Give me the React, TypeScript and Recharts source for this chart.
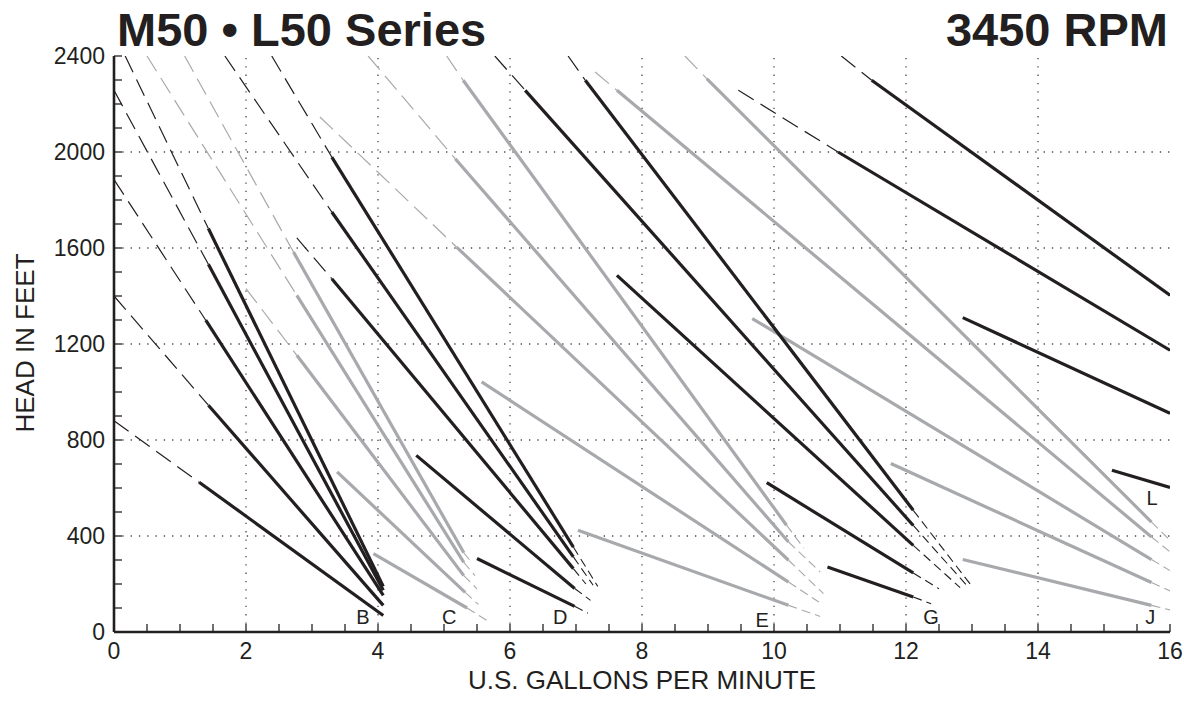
import React from 'react';
import { ComposedChart, Line, XAxis, YAxis, ReferenceLine, ReferenceDot } from 'recharts';

type Pt = [number, number];
interface Curve {
    dash?: Pt;
    from: Pt;
    to: Pt;
    tail?: Pt;
}

// [gpm, feet]
const curvesB: Curve[] = [
    { dash: [0, 880], from: [1.29, 624], to: [4.08, 69] },
    { dash: [0, 1400], from: [1.43, 945], to: [4.08, 111] },
    { dash: [0, 1885], from: [1.39, 1299], to: [4.08, 153] },
    { dash: [0, 2257], from: [1.43, 1532], to: [4.08, 174] },
    { dash: [0.17, 2400], from: [1.43, 1681], to: [4.08, 190] },
];

const curvesC: Curve[] = [
    { dash: [1.07, 2400], from: [2.72, 1583], to: [5.3, 330], tail: [5.42, 290] },
    { dash: [0.5, 2400], from: [2.77, 1403], to: [5.3, 290], tail: [5.47, 235] },
    { dash: [2.0, 1431], from: [2.77, 1153], to: [5.3, 235], tail: [5.5, 180] },
    { from: [3.38, 667], to: [5.32, 165], tail: [5.52, 115] },
    { from: [3.93, 327], to: [5.35, 100], tail: [5.65, 48] },
];

const curvesD: Curve[] = [
    { dash: [2.39, 2400], from: [3.3, 1979], to: [6.96, 354], tail: [7.33, 190] },
    { dash: [1.68, 2400], from: [3.3, 1750], to: [6.96, 313], tail: [7.26, 195] },
    { dash: [2.77, 1642], from: [3.3, 1472], to: [6.96, 264], tail: [7.15, 200] },
    { from: [4.58, 736], to: [6.98, 181], tail: [7.22, 132] },
    { from: [5.5, 306], to: [6.98, 107], tail: [7.18, 78] },
];

const curvesE: Curve[] = [
    { dash: [5.04, 2400], from: [5.29, 2299], to: [10.19, 445], tail: [10.45, 350] },
    { dash: [3.85, 2400], from: [5.17, 1972], to: [10.22, 375], tail: [10.7, 250] },
    { dash: [3.12, 2146], from: [5.19, 1604], to: [10.22, 299], tail: [10.75, 160] },
    { from: [5.57, 1042], to: [10.22, 208], tail: [10.68, 125] },
    { from: [7.03, 424], to: [10.22, 111], tail: [10.7, 65] },
];

const curvesG: Curve[] = [
    { dash: [6.88, 2400], from: [7.14, 2299], to: [12.11, 507], tail: [13.0, 190] },
    { dash: [5.77, 2400], from: [6.23, 2257], to: [12.11, 444], tail: [12.95, 185] },
    { from: [7.62, 1486], to: [12.11, 361], tail: [12.82, 185] },
    { from: [9.89, 622], to: [12.11, 246], tail: [12.5, 180] },
    { from: [10.81, 271], to: [12.11, 146], tail: [12.38, 118] },
];

const curvesJ: Curve[] = [
    { dash: [8.65, 2400], from: [8.98, 2306], to: [15.72, 458], tail: [16, 382] },
    { dash: [7.29, 2333], from: [7.62, 2257], to: [15.72, 396], tail: [16, 334] },
    { from: [9.67, 1306], to: [15.72, 302], tail: [16, 256] },
    { from: [11.77, 702], to: [15.72, 206], tail: [16, 171] },
    { from: [12.86, 302], to: [15.72, 111], tail: [16, 92] },
];

const curvesL: Curve[] = [
    { dash: [11.02, 2400], from: [11.48, 2299], to: [16, 1403] },
    { dash: [9.46, 2257], from: [10.97, 2000], to: [16, 1174] },
    { from: [12.86, 1310], to: [16, 911] },
    { from: [15.12, 674], to: [16, 602] },
];

const seriesLabels = [
    { name: 'B', x: 3.77, y: 62 },
    { name: 'C', x: 5.08, y: 62 },
    { name: 'D', x: 6.76, y: 62 },
    { name: 'E', x: 9.82, y: 50 },
    { name: 'G', x: 12.38, y: 62 },
    { name: 'J', x: 15.7, y: 62 },
    { name: 'L', x: 15.73, y: 560 },
];

const xLabels = [0, 2, 4, 6, 8, 10, 12, 14, 16];
const yLabels = [0, 400, 800, 1200, 1600, 2000, 2400];
const gridX = [2, 4, 6, 8, 10, 12, 14];
const gridY = [400, 800, 1200, 1600, 2000];
const xTicks = Array.from({ length: 33 }, (_, i) => i * 0.5);
const yTicks = Array.from({ length: 25 }, (_, i) => i * 100);

const INK = '#231f20';
const GRAY = '#a7a9ac';
const FONT = "'Liberation Sans', Arial, Helvetica, sans-serif";

const toData = (a: Pt, b: Pt) => [
    { x: a[0], y: a[1] },
    { x: b[0], y: b[1] },
];

const drawCurves = (curves: Curve[], color: string, id: string) =>
    curves.flatMap((c, i) => {
        const out: React.ReactElement[] = [];
        if (c.dash) {
            out.push(
                <Line key={`${id}${i}d`} data={toData(c.dash, c.from)} dataKey="y" type="linear"
                    stroke={color} strokeWidth={1.2} strokeDasharray="18 8" dot={false}
                    activeDot={false} isAnimationActive={false} legendType="none" />
            );
        }
        out.push(
            <Line key={`${id}${i}s`} data={toData(c.from, c.to)} dataKey="y" type="linear"
                stroke={color} strokeWidth={3.2} dot={false}
                activeDot={false} isAnimationActive={false} legendType="none" />
        );
        if (c.tail) {
            out.push(
                <Line key={`${id}${i}t`} data={toData(c.to, c.tail)} dataKey="y" type="linear"
                    stroke={color} strokeWidth={1.1} strokeDasharray="9 5" dot={false}
                    activeDot={false} isAnimationActive={false} legendType="none" />
            );
        }
        return out;
    });

const AxisTick = (props: any) => {
    const { x, y, payload, side } = props;
    const v = payload.value;
    const len = 8;
    if (side === 'left') {
        return (
            <g>
                <line x1={x} y1={y} x2={x + len} y2={y} stroke={INK} strokeWidth={1.3} />
                {yLabels.includes(v) && (
                    <text x={x - 9} y={y + 8} textAnchor="end" fontSize={23} fill={INK} fontFamily={FONT}>{v}</text>
                )}
            </g>
        );
    }
    if (side === 'right') {
        return <line x1={x} y1={y} x2={x - len} y2={y} stroke={INK} strokeWidth={1.3} />;
    }
    if (side === 'top') {
        return <line x1={x} y1={y} x2={x} y2={y + len} stroke={INK} strokeWidth={1.3} />;
    }
    return (
        <g>
            <line x1={x} y1={y} x2={x} y2={y - len} stroke={INK} strokeWidth={1.3} />
            {xLabels.includes(v) && (
                <text x={x} y={y + 27} textAnchor="middle" fontSize={23} fill={INK} fontFamily={FONT}>{v}</text>
            )}
        </g>
    );
};

export default function App() {
    const frame = { stroke: INK, strokeWidth: 2.6 };
    return (
        <div style={{ position: 'absolute', left: 0, top: 0, width: 1184, height: 719, background: '#fff' }}>
            <ComposedChart width={1184} height={719} margin={{ top: 56, right: 14, bottom: 0, left: 0 }}>
                <XAxis xAxisId={0} type="number" dataKey="x" domain={[0, 16]} ticks={xTicks} interval={0}
                    height={87} tickSize={0} tickMargin={0} tickLine={false} axisLine={frame}
                    tick={<AxisTick side="bottom" />} allowDataOverflow />
                <XAxis xAxisId="top" orientation="top" type="number" dataKey="x" domain={[0, 16]} ticks={xTicks}
                    interval={0} height={0} tickSize={0} tickMargin={0} tickLine={false} axisLine={frame}
                    tick={<AxisTick side="top" />} allowDataOverflow />
                <YAxis yAxisId={0} type="number" domain={[0, 2400]} ticks={yTicks} interval={0}
                    width={114} tickSize={0} tickMargin={0} tickLine={false} axisLine={frame}
                    tick={<AxisTick side="left" />} allowDataOverflow />
                <YAxis yAxisId="right" orientation="right" type="number" domain={[0, 2400]} ticks={yTicks}
                    interval={0} width={0} tickSize={0} tickMargin={0} tickLine={false} axisLine={frame}
                    tick={<AxisTick side="right" />} allowDataOverflow />

                {gridX.map((v) => (
                    <ReferenceLine key={`gx${v}`} x={v} stroke="#444" strokeWidth={1.3} strokeDasharray="1.3 7" />
                ))}
                {gridY.map((v) => (
                    <ReferenceLine key={`gy${v}`} y={v} stroke="#444" strokeWidth={1.3} strokeDasharray="1.3 7" />
                ))}

                {drawCurves(curvesC, GRAY, 'c')}
                {drawCurves(curvesE, GRAY, 'e')}
                {drawCurves(curvesJ, GRAY, 'j')}
                {drawCurves(curvesB, INK, 'b')}
                {drawCurves(curvesD, INK, 'd')}
                {drawCurves(curvesG, INK, 'g')}
                {drawCurves(curvesL, INK, 'l')}

                {seriesLabels.map((s) => (
                    <ReferenceDot key={s.name} x={s.x} y={s.y} r={1} fill="none" stroke="none"
                        label={{ value: s.name, position: 'center', fontSize: 20, fill: INK, fontFamily: FONT }} />
                ))}
            </ComposedChart>
            <svg width={1184} height={719} style={{ position: 'absolute', left: 0, top: 0, pointerEvents: 'none' }}>
                <text x={117} y={46} fontSize={47} fontWeight="bold" fill={INK} fontFamily={FONT}>M50 • L50 Series</text>
                <text x={1168} y={46} fontSize={47} fontWeight="bold" fill={INK} fontFamily={FONT} textAnchor="end">3450 RPM</text>
                <text x={34} y={343} fontSize={26} fill={INK} fontFamily={FONT} textAnchor="middle"
                    transform="rotate(-90 34 343)">HEAD IN FEET</text>
                <text x={642} y={689} fontSize={26} fill={INK} fontFamily={FONT} textAnchor="middle">U.S. GALLONS PER MINUTE</text>
            </svg>
        </div>
    );
}
